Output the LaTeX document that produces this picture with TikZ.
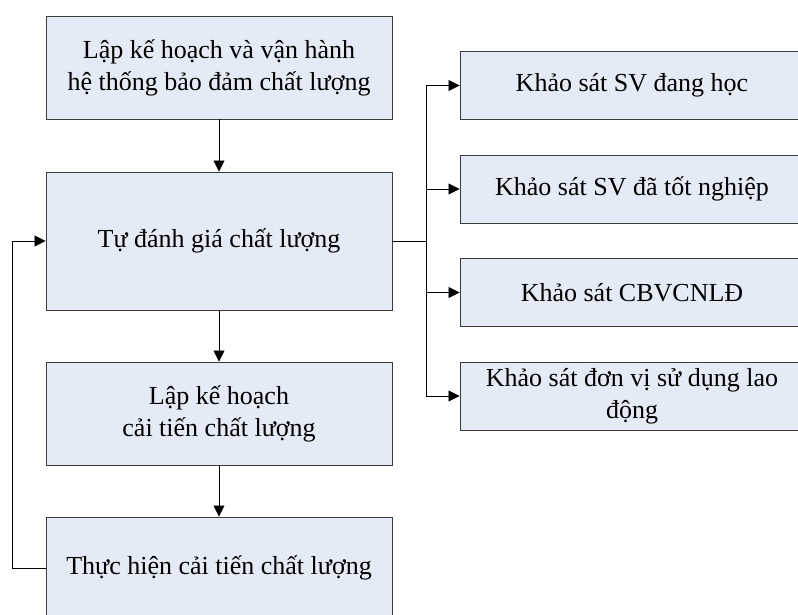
\documentclass[tikz,border=0pt]{standalone}
\usepackage{fontspec}
\setmainfont{Liberation Serif}
\usetikzlibrary{arrows.meta}
\definecolor{nenxanh}{RGB}{229,235,246}
\definecolor{vien}{RGB}{60,60,60}

\begin{document}
\begin{tikzpicture}[x=1pt,y=-1pt,
		font=\fontsize{26}{32}\selectfont,
		box/.style={
			draw=vien,fill=nenxanh,line width=0.9pt,inner sep=0pt,
			minimum width=346pt,align=center
		},
		khaosat/.style={
			box,minimum width=344pt,minimum height=68pt
		},
		arr/.style={
			-{Triangle[length=11pt,width=11pt]},line width=0.8pt
		}
		]
		\useasboundingbox (0,0) rectangle (798,615);
		% left column
		\node[box,minimum height=103pt] (mot) at (219,67.5) {Lập kế hoạch và vận hành\\hệ thống bảo đảm chất lượng};
		\node[box,minimum height=138pt] (hai) at (219,241) {Tự đánh giá chất lượng};
		\node[box,minimum height=103pt] (ba) at (219,413.5) {Lập kế hoạch\\cải tiến chất lượng};
		\node[box,minimum height=102pt] (bon) at (219,568) {Thực hiện cải tiến chất lượng};
		% right column
		\node[khaosat] (ks1) at (632,85.5) {Khảo sát SV đang học};
		\node[khaosat] (ks2) at (632,189) {Khảo sát SV đã tốt nghiệp};
		\node[khaosat] (ks3) at (632,292.5) {Khảo sát CBVCNLĐ};
		\node[khaosat] (ks4) at (632,396) {Khảo sát đơn vị sử dụng lao\\động};
		\coordinate (nhanh) at (426,241);
		\coordinate (vong) at (12,568);
		
		\draw[arr] (mot) -- (hai);
		\draw[arr] (hai) -- (ba);
		\draw[arr] (ba) -- (bon);
		\draw[line width=0.8pt] (hai.east) -- (nhanh);
		\foreach \k in {ks1,ks2,ks3,ks4}
		\draw[arr] (nhanh) |- (\k.west);
		\draw[arr] (bon.west) -- (vong) |- (hai.west);
\end{tikzpicture}
\end{document}
